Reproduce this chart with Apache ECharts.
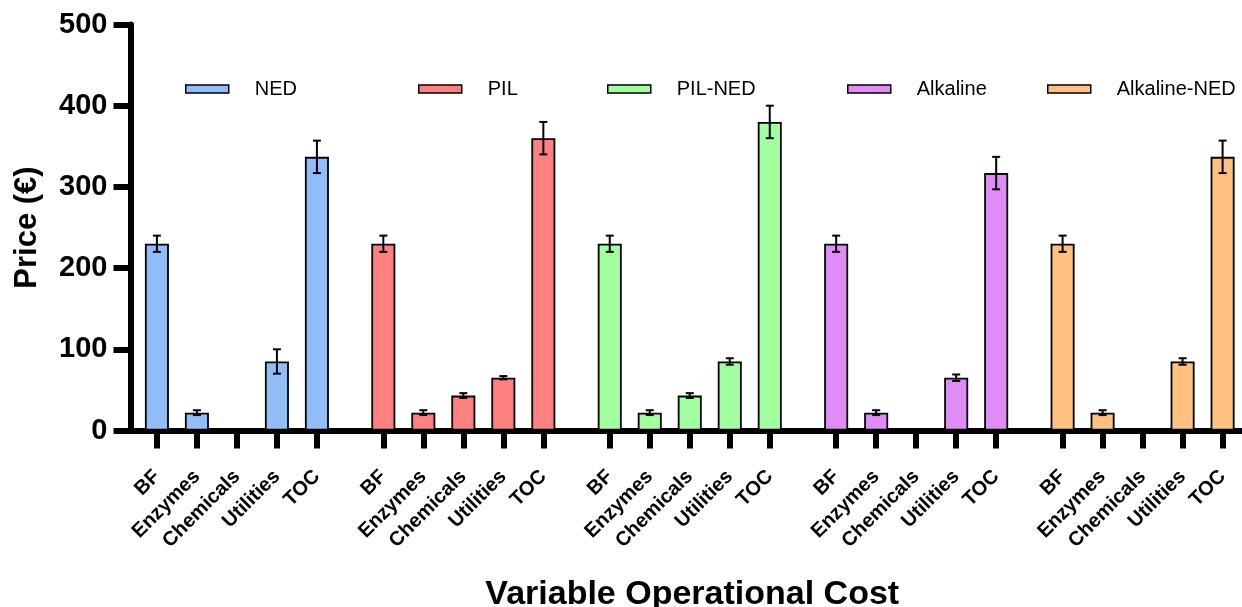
<!DOCTYPE html>
<html><head><meta charset="utf-8">
<script src="https://cdn.jsdelivr.net/npm/echarts@6/dist/echarts.min.js"></script>
<style>html,body{margin:0;padding:0;background:#fff}#c{width:1242px;height:607px}</style>
</head><body><div id="c"></div>
<script>
const categories = ['BF', 'Enzymes', 'Chemicals', 'Utilities', 'TOC'];
const groups = ['NED', 'PIL', 'PIL-NED', 'Alkaline', 'Alkaline-NED'];
const nedValues = [230, 22, 0, 85, 337];
const nedErrors = [10, 3, 0, 15, 20];
const pilValues = [230, 22, 43, 65, 360];
const pilErrors = [10, 3, 3, 2, 20];
const pilNedValues = [230, 22, 43, 85, 380];
const pilNedErrors = [10, 3, 3, 4, 20];
const alkalineValues = [230, 22, 0, 65, 317];
const alkalineErrors = [10, 3, 0, 4, 20];
const alkalineNedValues = [230, 22, 0, 85, 337];
const alkalineNedErrors = [10, 3, 0, 4, 20];
const yMin = 0, yMax = 500, yInterval = 100;

const groupValues = [nedValues, pilValues, pilNedValues, alkalineValues, alkalineNedValues];
const groupErrors = [nedErrors, pilErrors, pilNedErrors, alkalineErrors, alkalineNedErrors];
const colors = ['#92BEF7', '#FF8080', '#A2FFA0', '#DF8CF6', '#FFC080'];
const legendLeft = [185, 418, 607, 847, 1047];

const GROUP_PITCH = 5.66;
const pos = (g, i) => g * GROUP_PITCH + i;
const tickPositions = [];
const tickNames = [];
groups.forEach((g, gi) => categories.forEach((c, ci) => { tickPositions.push(pos(gi, ci)); tickNames.push(c); }));

const FONT = 'Liberation Sans, Arial, sans-serif';

const series = [];
groups.forEach((g, gi) => {
  series.push({
    name: g, type: 'bar', barWidth: 24, barGap: '-100%',
    itemStyle: { color: colors[gi], borderColor: '#000', borderWidth: 1.8 },
    data: groupValues[gi].map((v, ci) => [pos(gi, ci), v]),
    z: 2
  });
});
groups.forEach((g, gi) => {
  series.push({
    name: g + ' error', type: 'custom', z: 5,
    data: groupValues[gi].map((v, ci) => [pos(gi, ci), v, groupErrors[gi][ci]]),
    renderItem: function (params, api) {
      const x = api.value(0), y = api.value(1), e = api.value(2);
      if (!e) return;
      const t = api.coord([x, y + e]), b = api.coord([x, y - e]);
      const hw = 4;
      const st = { stroke: '#000', lineWidth: 2 };
      return { type: 'group', children: [
        { type: 'line', shape: { x1: t[0], y1: t[1], x2: b[0], y2: b[1] }, style: st },
        { type: 'line', shape: { x1: t[0] - hw, y1: t[1], x2: t[0] + hw, y2: t[1] }, style: st },
        { type: 'line', shape: { x1: b[0] - hw, y1: b[1], x2: b[0] + hw, y2: b[1] }, style: st }
      ]};
    }
  });
});

const legends = groups.map((g, gi) => ({
  data: [g], left: legendLeft[gi], top: 77, padding: 0,
  itemWidth: 43, itemHeight: 8, icon: 'rect',
  itemStyle: { borderColor: '#000', borderWidth: 1.5 },
  textStyle: { fontSize: 20, color: '#000', fontFamily: FONT, padding: [0, 0, 0, 21], lineHeight: 24 }
}));

const chart = echarts.init(document.getElementById('c'), null, { renderer: 'canvas' });
chart.setOption({
  animation: false,
  backgroundColor: '#fff',
  legend: legends,
  grid: { left: 130.5, right: 0, top: 24.5, bottom: 176.5, containLabel: false, outerBoundsMode: 'none' },
  xAxis: {
    type: 'value', min: -0.66, max: 27.125,
    splitLine: { show: false },
    axisLine: { show: true, onZero: false, lineStyle: { color: '#000', width: 6 } },
    axisTick: { show: true, customValues: tickPositions, length: 18, lineStyle: { color: '#000', width: 6 } },
    axisLabel: {
      customValues: tickPositions, rotate: 45, margin: 43,
      fontSize: 20, fontWeight: 'bold', color: '#000', fontFamily: FONT,
      formatter: function (v) {
        let best = 0, d = Infinity;
        tickPositions.forEach((p, k) => { const dd = Math.abs(p - v); if (dd < d) { d = dd; best = k; } });
        return tickNames[best];
      }
    },
    name: 'Variable Operational Cost', nameLocation: 'middle', nameGap: 147,
    nameTextStyle: { fontSize: 34, fontWeight: 'bold', color: '#000', fontFamily: FONT, padding: [0, 0, 0, 12] }
  },
  yAxis: {
    type: 'value', min: yMin, max: yMax, interval: yInterval,
    splitLine: { show: false },
    axisLine: { show: true, onZero: false, lineStyle: { color: '#000', width: 6 } },
    axisTick: { show: true, length: 17, lineStyle: { color: '#000', width: 6 } },
    axisLabel: { fontSize: 29, fontWeight: 'bold', color: '#000', fontFamily: FONT, margin: 23 },
    name: 'Price (€)', nameLocation: 'middle', nameGap: 88,
    nameTextStyle: { fontSize: 31, fontWeight: 'bold', color: '#000', fontFamily: FONT }
  },
  series: series
});
</script>
</body></html>
